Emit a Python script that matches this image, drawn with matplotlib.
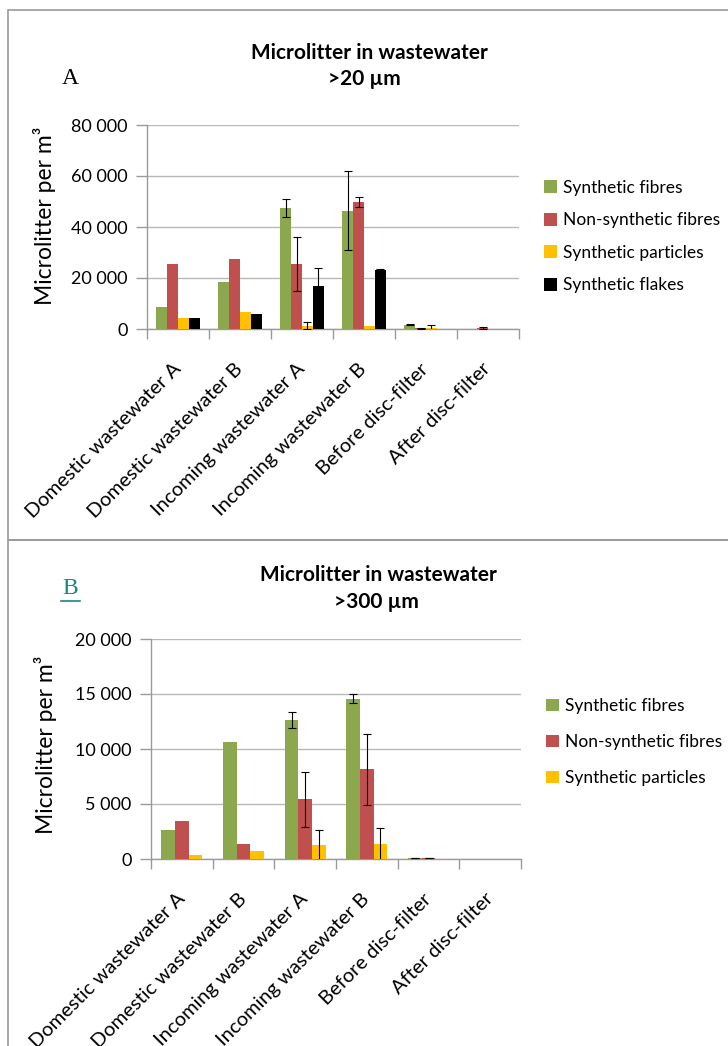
import matplotlib
matplotlib.use("Agg")
import matplotlib.pyplot as plt
import numpy as np
from matplotlib.patches import Rectangle, Patch
from matplotlib.lines import Line2D
from matplotlib.transforms import ScaledTranslation

plt.rcParams['font.family'] = ['Lato', 'DejaVu Sans']

categories = ["Domestic wastewater A", "Domestic wastewater B", "Incoming wastewater A",
              "Incoming wastewater B", "Before disc-filter", "After disc-filter"]

# Panel A (>20 µm)
a_series = ["Synthetic fibres", "Non-synthetic fibres", "Synthetic particles", "Synthetic flakes"]
a_syn_fibres = [8600, 18500, 47500, 46400, 1700, 0]
a_syn_fibres_err = [0, 0, 3600, 15400, 200, 0]
a_non_syn_fibres = [25500, 27400, 25500, 49800, 300, 400]
a_non_syn_fibres_err = [0, 0, 10500, 1800, 200, 400]
a_syn_particles = [4300, 6650, 1300, 1300, 400, 0]
a_syn_particles_err = [0, 0, 1400, 0, 1000, 0]
a_syn_flakes = [4200, 5900, 17000, 23200, 0, 0]
a_syn_flakes_err = [0, 0, 7000, 200, 0, 0]

# Panel B (>300 µm)
b_series = ["Synthetic fibres", "Non-synthetic fibres", "Synthetic particles"]
b_syn_fibres = [2600, 10600, 12640, 14570, 100, 0]
b_syn_fibres_err = [0, 0, 730, 430, 30, 0]
b_non_syn_fibres = [3480, 1360, 5450, 8150, 80, 0]
b_non_syn_fibres_err = [0, 0, 2500, 3200, 20, 0]
b_syn_particles = [360, 690, 1300, 1360, 0, 0]
b_syn_particles_err = [0, 0, 1360, 1500, 0, 0]

colors = ["#8BA84F", "#C0504D", "#FFC000", "#000000"]

W, H = 728, 1046
fig = plt.figure(figsize=(W / 100, H / 100), dpi=100)
fig.patch.set_facecolor("white")

# panel borders
fig.patches.append(Rectangle((8 / W, 1 - 540 / H), 1.0, (540 - 10) / H, transform=fig.transFigure,
                             fill=False, edgecolor="#9a9a9a", linewidth=1.2))
fig.patches.append(Rectangle((8 / W, -0.1), 1.0, 0.1 + 1 - 540 / H, transform=fig.transFigure,
                             fill=False, edgecolor="#9a9a9a", linewidth=1.2))


def fmt(v):
    return f"{int(v):,}".replace(",", " ")


def draw(ax, vals, errs, names, width, ymax, ystep):
    n = len(vals)
    x = np.arange(len(categories))
    for i, (v, e, nm) in enumerate(zip(vals, errs, names)):
        off = (i - (n - 1) / 2) * width
        ax.bar(x + off, v, width, color=colors[i], label=nm, zorder=3, edgecolor="none")
        ea = np.array(e, dtype=float)
        mask = ea > 0
        ax.errorbar((x + off)[mask], np.array(v)[mask], yerr=ea[mask], fmt="none",
                    ecolor="black", elinewidth=0.8, capsize=3, capthick=0.8, zorder=4)
    ax.set_xlim(-0.5, len(categories) - 0.5)
    ax.set_ylim(0, ymax)
    ticks = np.arange(0, ymax + 1, ystep)
    ax.set_yticks(ticks)
    ax.set_yticklabels([fmt(t) for t in ticks], fontsize=13)
    ax.set_xticks(np.arange(-0.5, len(categories) + 0.5, 1.0))
    ax.set_xticklabels([])
    ax.set_xticks(x, minor=True)
    ax.tick_params(axis="x", which="minor", length=0, pad=8)
    ax.tick_params(axis="x", which="major", length=7, color="#9a9a9a", width=1)
    ax.tick_params(axis="y", length=8, color="#9a9a9a", width=1, pad=6)
    ax.set_xticklabels(categories, minor=True, rotation=45, ha="right",
                       rotation_mode="anchor", fontsize=14.5)
    shift = ScaledTranslation(-6 / 100, -20 / 100, fig.dpi_scale_trans)
    for lab in ax.get_xticklabels(minor=True):
        lab.set_transform(lab.get_transform() + shift)
    ax.grid(axis="y", color="#b8b8b8", linewidth=1, zorder=0)
    for s in ["top", "right"]:
        ax.spines[s].set_visible(False)
    for s in ["left", "bottom"]:
        ax.spines[s].set_color("#9a9a9a")
        ax.spines[s].set_linewidth(1)
    ax.set_ylabel("Microlitter per m³", fontsize=16.5)
    handles = [Patch(facecolor=colors[i], edgecolor="none") for i in range(n)]
    return handles


leg_kw = dict(loc="center left", frameon=False, fontsize=12.5, handlelength=0.75,
              handleheight=0.75, handletextpad=0.35, borderaxespad=0, borderpad=0)

# Panel A
axA = fig.add_axes([147 / W, 1 - 329 / H, (519 - 147) / W, (329 - 125) / H])
hA = draw(axA,
          [a_syn_fibres, a_non_syn_fibres, a_syn_particles, a_syn_flakes],
          [a_syn_fibres_err, a_non_syn_fibres_err, a_syn_particles_err, a_syn_flakes_err],
          a_series, 0.177, 80000, 20000)
axA.yaxis.set_label_coords(-0.245, 0.555)
axA.legend(hA, a_series, bbox_to_anchor=((544 - 147) / 372, (329 - 236.5) / 204),
           labelspacing=0.95, **leg_kw)
fig.text(369 / W, 1 - 53 / H, "Microlitter in wastewater", ha="center", va="center",
         fontsize=15, fontweight="bold")
fig.text(364 / W, 1 - 79 / H, ">20 µm", ha="center", va="center", fontsize=15,
         fontweight="bold")
fig.text(62 / W, 1 - 79 / H, "A", ha="left", va="center", fontsize=17,
         family="Liberation Serif")

# Panel B
axB = fig.add_axes([151 / W, 1 - 859 / H, (521 - 151) / W, (859 - 639) / H])
hB = draw(axB,
          [b_syn_fibres, b_non_syn_fibres, b_syn_particles],
          [b_syn_fibres_err, b_non_syn_fibres_err, b_syn_particles_err],
          b_series, 0.22, 20000, 5000)
axB.yaxis.set_label_coords(-0.253, 0.52)
axB.legend(hB, b_series, bbox_to_anchor=((546 - 151) / 370, (859 - 742) / 220),
           labelspacing=1.15, **leg_kw)
fig.text(378 / W, 1 - 575 / H, "Microlitter in wastewater", ha="center", va="center",
         fontsize=15, fontweight="bold")
fig.text(376 / W, 1 - 602 / H, ">300 µm", ha="center", va="center", fontsize=15,
         fontweight="bold")
fig.text(62 / W, 1 - 589 / H, "B", ha="left", va="center", fontsize=17,
         family="Liberation Serif", color="#1a8585")
fig.lines.append(Line2D([61 / W, 80 / W], [1 - 601 / H, 1 - 601 / H], transform=fig.transFigure,
                        color="#1a8585", linewidth=1.2))

fig.savefig("out.png", dpi=100)
